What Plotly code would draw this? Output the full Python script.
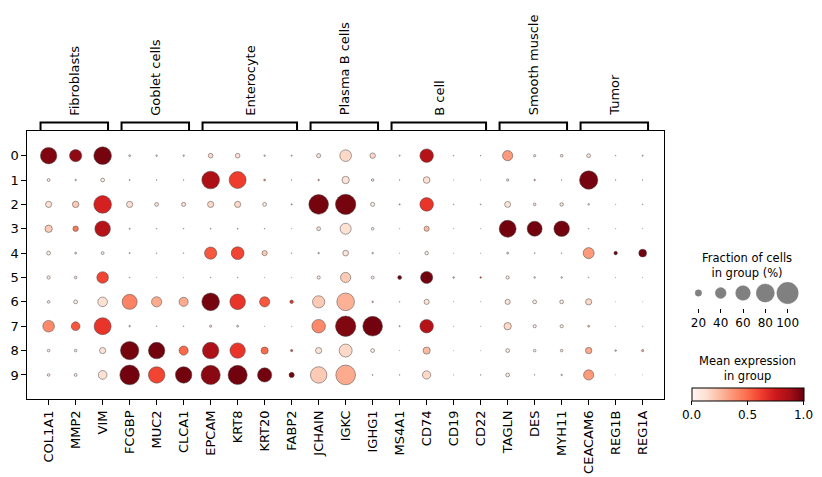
import plotly.graph_objects as go
import plotly.colors as pc

genes = ["COL1A1", "MMP2", "VIM", "FCGBP", "MUC2", "CLCA1", "EPCAM", "KRT8", "KRT20", "FABP2",
         "JCHAIN", "IGKC", "IGHG1", "MS4A1", "CD74", "CD19", "CD22", "TAGLN", "DES", "MYH11",
         "CEACAM6", "REG1B", "REG1A"]
clusters = ["0", "1", "2", "3", "4", "5", "6", "7", "8", "9"]
group_names = ["Fibroblasts", "Goblet cells", "Enterocyte", "Plasma B cells", "B cell", "Smooth muscle", "Tumor"]
group_start = [0, 3, 6, 10, 13, 17, 20]
group_end = [2, 5, 9, 12, 16, 19, 22]

# fraction of cells expressing (%) per cluster row
frac = [
    [70, 47, 77, 4, 3, 3, 13, 13, 3, 2, 11, 44, 16, 2, 54, 1, 1, 37, 5, 6, 10, 1, 2],
    [7, 3, 10, 2, 1, 1, 77, 73, 4, 1, 3, 24, 6, 1, 21, 0.5, 0.5, 5, 3, 1, 81, 1, 1],
    [19, 20, 77, 19, 10, 11, 19, 19, 10, 2, 89, 93, 11, 2, 54, 1, 1.5, 18, 6, 9, 3, 0.5, 1],
    [24, 16, 65, 2, 1, 1, 1.5, 1.5, 1, 0.5, 10, 41, 6, 0.5, 15, 0.5, 0.5, 73, 62, 65, 1, 0.5, 0.5],
    [10, 4, 7, 2, 1, 1, 47, 50, 15, 1, 3, 17, 3, 0.5, 9, 0.5, 0.5, 4, 1.5, 1, 41, 9, 26],
    [8, 6, 44, 1, 0.5, 0.5, 1, 1, 0.5, 0.5, 8, 37, 7, 10, 47, 3, 3, 8, 3, 3, 1, 0.5, 0.5],
    [6, 10, 34, 62, 37, 32, 77, 65, 37, 9, 47, 77, 3, 1, 15, 0.5, 0.5, 15, 10, 10, 19, 0.3, 0.3],
    [44, 30, 73, 3, 1, 1, 5, 4, 0.5, 0.5, 54, 93, 89, 2, 54, 0.5, 0.5, 24, 8, 8, 4, 0.5, 0.5],
    [6, 6, 19, 81, 70, 32, 70, 64, 23, 5, 19, 51, 10, 0.5, 23, 0.3, 0.3, 10, 6, 6, 20, 3, 5],
    [6, 7, 30, 89, 70, 70, 86, 86, 58, 15, 70, 89, 1.5, 1, 28, 0.5, 1, 10, 1, 3, 37, 0.3, 0.3],
]
# scaled mean expression per cluster row
expr = [
    [0.95, 0.92, 0.97, 0.1, 0.1, 0.1, 0.15, 0.12, 0.1, 0.1, 0.1, 0.15, 0.15, 0.1, 0.82, 0.1, 0.1, 0.35, 0.1, 0.1, 0.1, 0.1, 0.1],
    [0.05, 0.1, 0.05, 0.1, 0.1, 0.1, 0.85, 0.62, 0.3, 0.1, 0.3, 0.1, 0.1, 0.1, 0.12, 0.1, 0.1, 0.1, 0.3, 0.1, 0.97, 0.1, 0.1],
    [0.12, 0.2, 0.72, 0.12, 0.1, 0.12, 0.15, 0.15, 0.05, 0.3, 0.97, 0.97, 0.05, 0.3, 0.65, 0.1, 0.1, 0.1, 0.1, 0.1, 0.1, 0.1, 0.1],
    [0.2, 0.45, 0.82, 0.1, 0.1, 0.1, 0.1, 0.1, 0.1, 0.1, 0.1, 0.12, 0.05, 0.1, 0.25, 0.1, 0.1, 0.98, 0.98, 0.98, 0.1, 0.1, 0.1],
    [0.05, 0.1, 0.05, 0.1, 0.1, 0.1, 0.55, 0.6, 0.2, 0.1, 0.1, 0.1, 0.1, 0.1, 0.05, 0.1, 0.1, 0.1, 0.1, 0.1, 0.35, 0.98, 0.98],
    [0.05, 0.1, 0.6, 0.1, 0.1, 0.1, 0.1, 0.1, 0.1, 0.1, 0.05, 0.2, 0.05, 0.98, 0.98, 0.3, 0.6, 0.05, 0.1, 0.1, 0.1, 0.1, 0.1],
    [0.05, 0.05, 0.12, 0.42, 0.3, 0.3, 0.97, 0.65, 0.55, 0.65, 0.2, 0.28, 0.3, 0.1, 0.1, 0.1, 0.1, 0.1, 0.05, 0.05, 0.15, 0.1, 0.1],
    [0.4, 0.55, 0.65, 0.2, 0.1, 0.1, 0.1, 0.1, 0.1, 0.1, 0.4, 0.95, 0.98, 0.2, 0.82, 0.1, 0.1, 0.15, 0.05, 0.05, 0.2, 0.1, 0.1],
    [0.05, 0.05, 0.1, 0.97, 0.98, 0.5, 0.85, 0.65, 0.5, 0.6, 0.1, 0.15, 0.05, 0.1, 0.25, 0.1, 0.1, 0.05, 0.05, 0.1, 0.3, 0.3, 0.3],
    [0.05, 0.05, 0.12, 0.98, 0.6, 0.98, 0.93, 0.98, 0.98, 0.98, 0.2, 0.3, 0.1, 0.1, 0.15, 0.1, 0.1, 0.05, 0.1, 0.1, 0.35, 0.1, 0.1],
]
legend_fracs = [20, 40, 60, 80, 100]
cbar_ticks = [0.0, 0.5, 1.0]

W, H = 822, 477
FONT = "DejaVu Sans"
MAXD = 21.5


def dsize(f):
    return MAXD * (f / 100.0) ** 0.75


xs, ys, ss, cs = [], [], [], []
for r, row in enumerate(frac):
    for c, f in enumerate(row):
        xs.append(c)
        ys.append(r)
        ss.append(dsize(f))
        cs.append(expr[r][c])

reds = pc.sequential.Reds
cscale = [[i / (len(reds) - 1), col] for i, col in enumerate(reds)]

# pixel layout helpers
L, R, T, B = 27.3, 664.0, 131.3, 399.3

def px_x(p):
    return p / W

def px_y(p):
    return 1 - p / H

fig = go.Figure()
fig.add_trace(go.Scatter(
    x=xs, y=ys, mode="markers",
    marker=dict(size=ss, color=cs, cmin=0, cmax=1, colorscale=cscale, opacity=1,
                line=dict(width=0.5, color="#444444"),
                colorbar=dict(orientation="h", x=px_x(747.5), xanchor="center",
                              y=px_y(387.7), yanchor="top",
                              len=111.6, lenmode="pixels", thickness=13.3, thicknessmode="pixels",
                              outlinewidth=1, outlinecolor="black", xpad=0, ypad=0,
                              tickvals=cbar_ticks, ticktext=["%.1f" % v for v in cbar_ticks],
                              ticks="outside", ticklen=4, tickcolor="black",
                              tickfont=dict(family=FONT, size=12, color="black"),
                              title=dict(text=""))),
    showlegend=False, hoverinfo="skip"))

fig.add_trace(go.Scatter(
    x=list(range(len(legend_fracs))), y=[1] * len(legend_fracs), mode="markers",
    marker=dict(size=[dsize(v) for v in legend_fracs], color="#808080", opacity=1,
                line=dict(width=0.5, color="#808080")),
    xaxis="x2", yaxis="y2", showlegend=False, hoverinfo="skip"))

shapes = []
annotations = []
for name, s0, e0 in zip(group_names, group_start, group_end):
    x0, x1 = s0 - 0.3, e0 + 0.2
    yt, yb = px_y(122.5), px_y(130.8)
    shapes.append(dict(type="path", xref="x", yref="paper",
                       path=f"M {x0},{yb} L {x0},{yt} L {x1},{yt} L {x1},{yb}",
                       line=dict(color="black", width=2)))
    annotations.append(dict(x=(x0 + x1) / 2, y=px_y(117.5), xref="x", yref="paper",
                            text=name, textangle=-90, showarrow=False,
                            xanchor="center", yanchor="bottom",
                            font=dict(family=FONT, size=13, color="black")))

annotations.append(dict(x=px_x(746.5), y=px_y(265), xref="paper", yref="paper",
                        text="Fraction of cells<br>in group (%)", showarrow=False,
                        xanchor="center", yanchor="middle",
                        font=dict(family=FONT, size=11.5, color="black")))
annotations.append(dict(x=px_x(747.5), y=px_y(368), xref="paper", yref="paper",
                        text="Mean expression<br>in group", showarrow=False,
                        xanchor="center", yanchor="middle",
                        font=dict(family=FONT, size=11.5, color="black")))

lg_w = 22.3 * 5
fig.update_layout(
    width=W, height=H, margin=dict(l=0, r=0, t=0, b=0),
    paper_bgcolor="white", plot_bgcolor="white",
    font=dict(family=FONT, color="black"),
    shapes=shapes, annotations=annotations,
    xaxis=dict(domain=[px_x(L), px_x(R)], range=[-0.79, len(genes) - 1 + 0.79],
               tickvals=list(range(len(genes))), ticktext=genes, tickangle=-90,
               ticks="outside", ticklen=5, tickwidth=1, tickcolor="black",
               showline=True, linecolor="black", linewidth=1, mirror=True,
               showgrid=False, zeroline=False, automargin=False,
               tickfont=dict(family=FONT, size=13, color="black")),
    yaxis=dict(domain=[px_y(B), px_y(T)], range=[len(clusters), -1],
               tickvals=list(range(len(clusters))), ticktext=clusters,
               ticks="outside", ticklen=5, tickwidth=1, tickcolor="black",
               showline=True, linecolor="black", linewidth=1, mirror=True,
               showgrid=False, zeroline=False, automargin=False,
               tickfont=dict(family=FONT, size=13, color="black")),
    xaxis2=dict(domain=[px_x(743 - lg_w / 2), px_x(743 + lg_w / 2)], range=[-0.5, 4.5],
                anchor="y2", tickvals=list(range(len(legend_fracs))),
                ticktext=[str(v) for v in legend_fracs],
                ticks="outside", ticklen=4, tickcolor="black", showline=False,
                showgrid=False, zeroline=False, automargin=False,
                tickfont=dict(family=FONT, size=12, color="black")),
    yaxis2=dict(domain=[px_y(308), px_y(278)], range=[0, 2], anchor="x2", visible=False,
                showgrid=False, zeroline=False),
)

fig.write_html("out.html", config={"displayModeBar": False, "staticPlot": True},
               post_script="document.body.style.margin='0';")
